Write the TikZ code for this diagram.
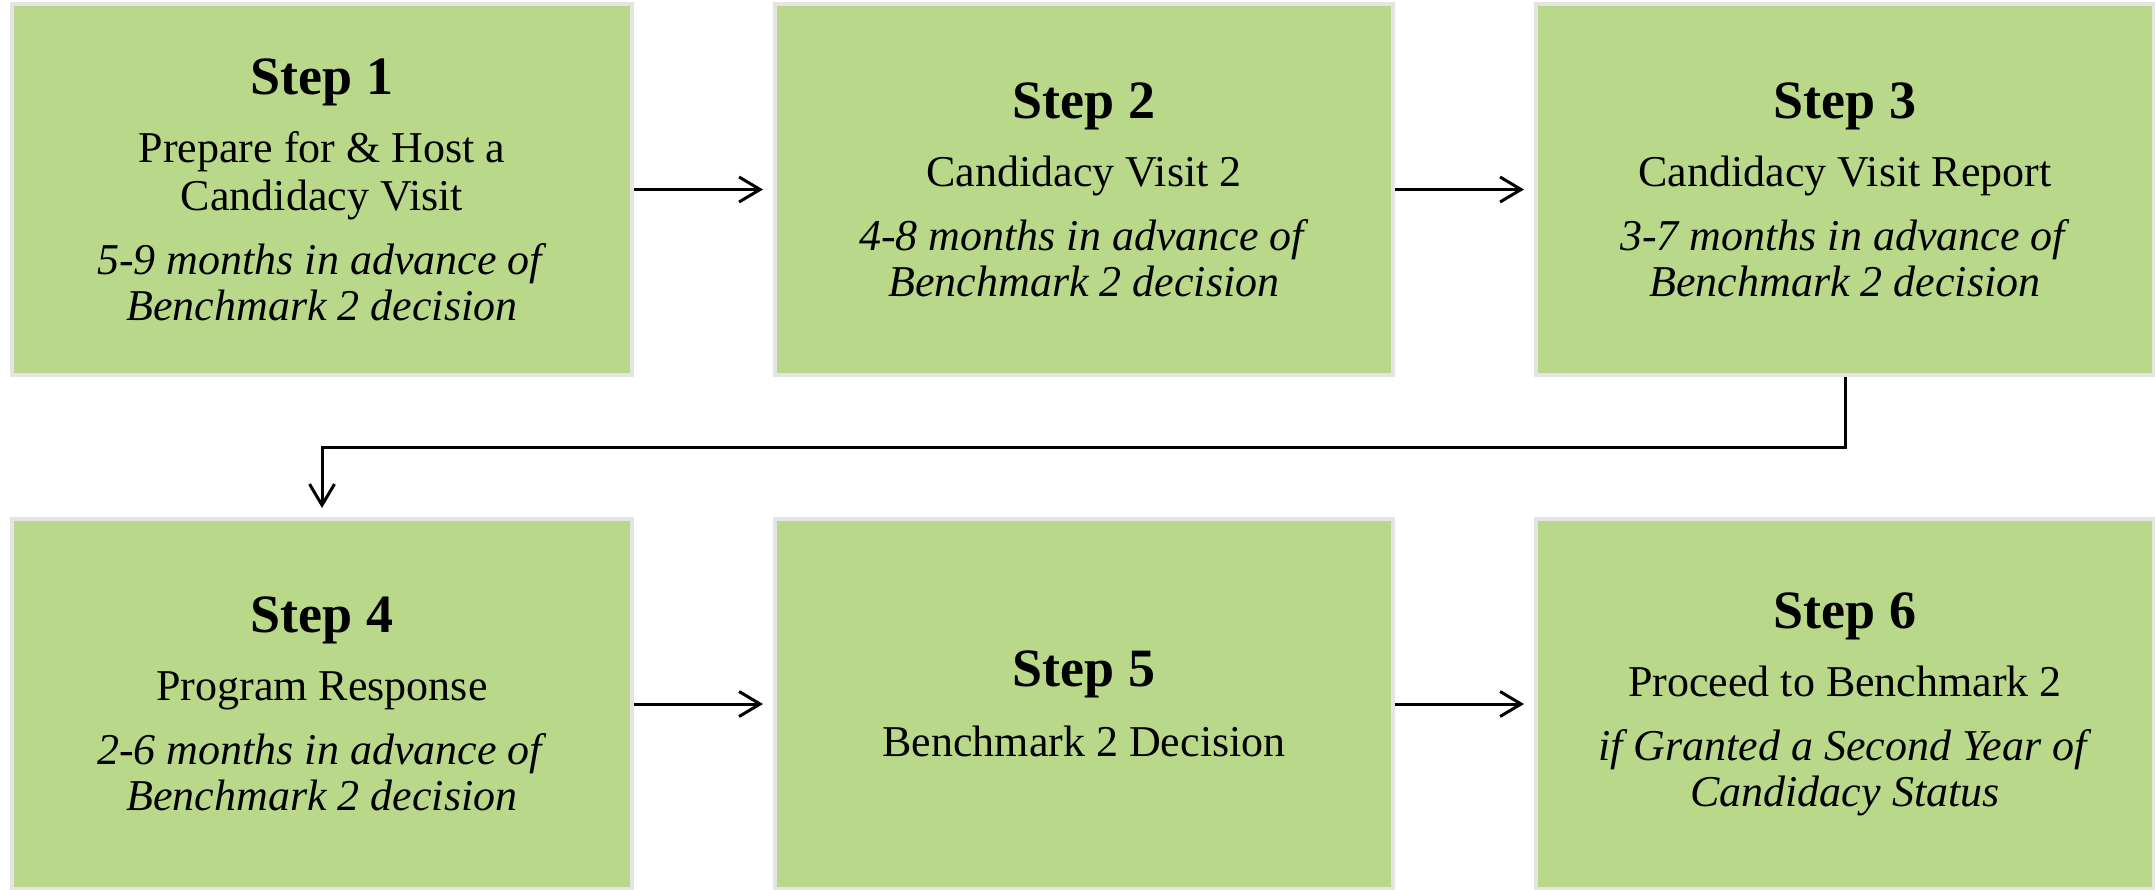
\documentclass[tikz,border=0pt]{standalone}
\usepackage{fontspec}
\setmainfont{Liberation Serif}
\usetikzlibrary{arrows.meta}
\definecolor{boxgreen}{RGB}{186,216,138}
\definecolor{boxedge}{RGB}{228,228,228}
\newcommand{\hd}[1]{{\fontsize{54}{48}\selectfont\bfseries #1}}
\begin{document}
\begin{tikzpicture}[x=1pt,y=-1pt,
  stepbox/.style={draw=boxedge, line width=4pt, fill=boxgreen, inner sep=0pt,
    align=center, font=\fontsize{44}{48}\selectfont},
  rowone/.style={stepbox, minimum width=618pt, minimum height=371pt},
  rowtwo/.style={stepbox, minimum width=618pt, minimum height=370pt},
  arr/.style={line width=3pt, -{Straight Barb[length=21pt,width=25pt]}, shorten >=10pt}
]
\useasboundingbox (0,0) rectangle (2155,889);
\node[rowone, minimum width=620pt] (b1) at (322,189.5)
  {\hd{Step 1}\\[20pt] Prepare for \& Host a\\ Candidacy Visit\\[16pt]
   \textit{5-9 months in advance of}\\[-2pt] \textit{Benchmark 2 decision}};
\node[rowone] (b2) at (1084,189.5)
  {\hd{Step 2}\\[20pt] Candidacy Visit 2\\[16pt]
   \textit{4-8 months in advance of}\\[-2pt] \textit{Benchmark 2 decision}};
\node[rowone] (b3) at (1845,189.5)
  {\hd{Step 3}\\[20pt] Candidacy Visit Report\\[16pt]
   \textit{3-7 months in advance of}\\[-2pt] \textit{Benchmark 2 decision}};
\node[rowtwo, minimum width=620pt] (b4) at (322,704)
  {\hd{Step 4}\\[20pt] Program Response\\[16pt]
   \textit{2-6 months in advance of}\\[-2pt] \textit{Benchmark 2 decision}};
\node[rowtwo] (b5) at (1084,704)
  {\hd{Step 5}\\[22pt] Benchmark 2 Decision};
\node[rowtwo] (b6) at (1845,704)
  {\hd{Step 6}\\[20pt] Proceed to Benchmark 2\\[16pt]
   \textit{if Granted a Second Year of}\\[-2pt] \textit{Candidacy Status}};
\draw[arr] (b1.east) -- (b2.west);
\draw[arr] (b2.east) -- (b3.west);
\draw[arr] (b4.east) -- (b5.west);
\draw[arr] (b5.east) -- (b6.west);
\draw[arr, shorten >=9pt] (b3.south) -- (b3.south |- 0,447) -| (b4.north);
\end{tikzpicture}
\end{document}
